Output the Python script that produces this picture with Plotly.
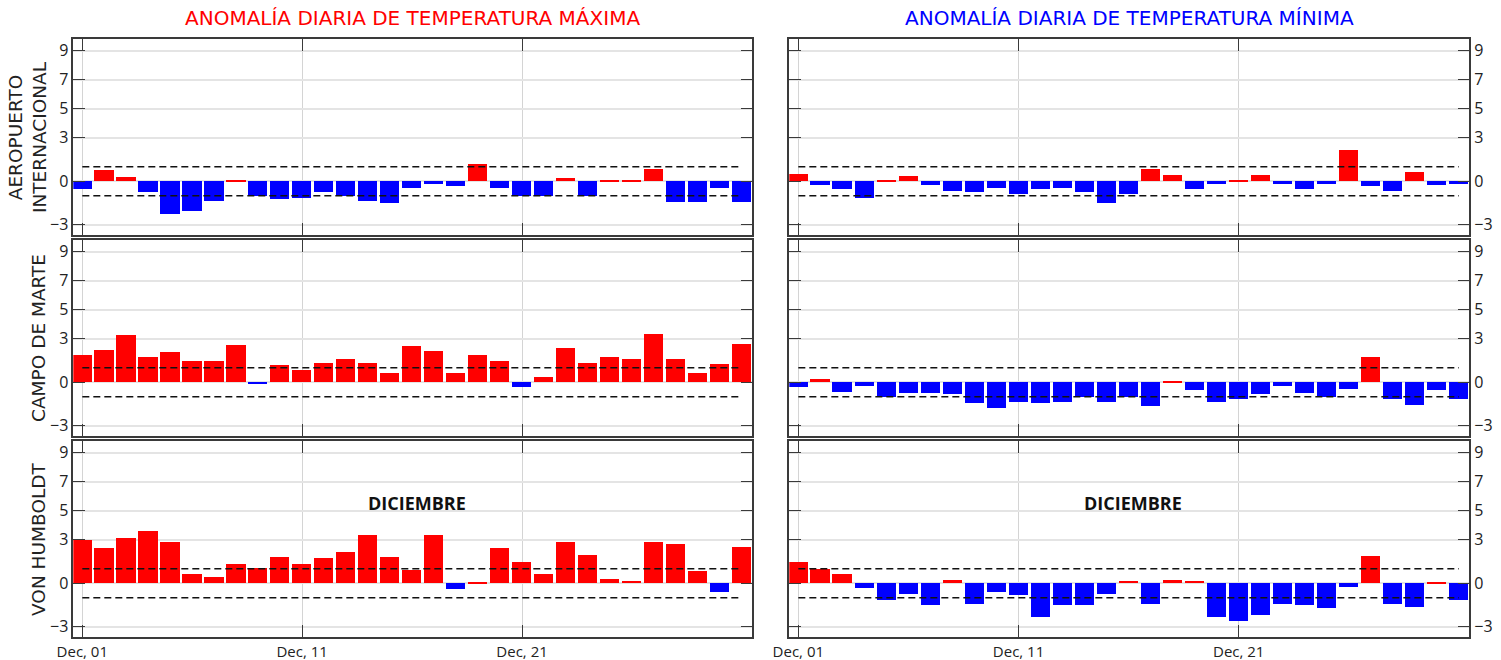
import plotly.graph_objects as go

days = list(range(1, 32))
tick_vals = [1, 11, 21]
tick_text = ["Dec, 01", "Dec, 11", "Dec, 21"]
y_ticks = [-3, 0, 3, 5, 7, 9]

stations = ["AEROPUERTO<br>INTERNACIONAL", "CAMPO DE MARTE", "VON HUMBOLDT"]
col_titles = ["ANOMALÍA DIARIA DE TEMPERATURA MÁXIMA", "ANOMALÍA DIARIA DE TEMPERATURA MÍNIMA"]
month_label = "DICIEMBRE"
threshold = 1.0

# Max temperature anomalies (left column)
tmax_aeropuerto = [-0.55, 0.75, 0.27, -0.73, -2.22, -2.06, -1.33, 0.03, -1.0, -1.24,
                   -1.14, -0.73, -1.0, -1.33, -1.53, -0.46, -0.16, -0.32, 1.17, -0.46,
                   -1.0, -1.0, 0.25, -1.0, 0.03, 0.03, 0.82, -1.44, -1.44, -0.46, -1.44]
tmax_campo = [1.85, 2.24, 3.28, 1.73, 2.08, 1.45, 1.45, 2.56, -0.14, 1.18,
              0.85, 1.34, 1.57, 1.34, 0.65, 2.47, 2.15, 0.65, 1.85, 1.45,
              -0.32, 0.35, 2.36, 1.34, 1.73, 1.57, 3.35, 1.57, 0.65, 1.27, 2.66]
tmax_humboldt = [3.0, 2.41, 3.1, 3.63, 2.82, 0.62, 0.41, 1.33, 1.03, 1.84,
                 1.33, 1.72, 2.13, 3.33, 1.84, 0.92, 3.33, -0.37, 0.03, 2.41,
                 1.45, 0.62, 2.82, 1.93, 0.3, 0.14, 2.82, 2.71, 0.83, -0.57, 2.53]

# Min temperature anomalies (right column)
tmin_aeropuerto = [0.53, -0.23, -0.53, -1.17, 0.03, 0.34, -0.23, -0.64, -0.76, -0.46,
                   -0.87, -0.53, -0.46, -0.76, -1.53, -0.87, 0.82, 0.43, -0.55, -0.16,
                   0.03, 0.43, -0.16, -0.55, -0.16, 2.13, -0.34, -0.64, 0.64, -0.23, -0.16]
tmin_campo = [-0.32, 0.23, -0.64, -0.25, -0.99, -0.74, -0.74, -0.83, -1.45, -1.75,
              -1.33, -1.45, -1.33, -1.03, -1.33, -1.03, -1.66, 0.02, -0.53, -1.33,
              -1.13, -0.83, -0.25, -0.74, -1.03, -0.44, 1.72, -1.13, -1.54, -0.53, -1.13]
tmin_humboldt = [1.48, 0.98, 0.66, -0.32, -1.12, -0.73, -1.53, 0.25, -1.42, -0.62,
                 -0.82, -2.33, -1.53, -1.53, -0.73, 0.16, -1.42, 0.25, 0.16, -2.33,
                 -2.63, -2.21, -1.42, -1.53, -1.71, -0.23, 1.85, -1.42, -1.62, 0.02, -1.12]

panels = [
    [tmax_aeropuerto, tmin_aeropuerto],
    [tmax_campo, tmin_campo],
    [tmax_humboldt, tmin_humboldt],
]

W, H = 1501, 660
col_px = [(73.3, 752.3), (789.3, 1469.3)]
row_px = [(39, 235), (240, 436), (441, 637)]


def fx(px):
    return px / W


def fy(py):
    return 1 - py / H


POS = "#ff0000"
NEG = "#0000ff"
FRAME = "#3a3a3a"

fig = go.Figure()
layout = {}
for r in range(3):
    for c in range(2):
        i = r * 2 + c + 1
        xs = "" if i == 1 else str(i)
        vals = panels[r][c]
        colors = [POS if v >= 0 else NEG for v in vals]
        fig.add_trace(go.Bar(x=days, y=vals, marker=dict(color=colors, line=dict(width=0)),
                             width=0.87, xaxis="x" + xs, yaxis="y" + xs, showlegend=False))
        for t in (threshold, -threshold):
            fig.add_trace(go.Scatter(x=[days[0], days[-1]], y=[t, t], mode="lines",
                                     line=dict(color="#111111", width=1.6, dash="7px,4px"),
                                     xaxis="x" + xs, yaxis="y" + xs, showlegend=False,
                                     hoverinfo="skip"))
        x0, x1 = col_px[c]
        y0, y1 = row_px[r]
        layout["xaxis" + xs] = dict(
            domain=[fx(x0), fx(x1)], anchor="y" + xs, range=[0.59, 31.47],
            tickvals=tick_vals, ticktext=tick_text, showticklabels=(r == 2),
            ticks="inside", ticklen=12, tickwidth=1.3, tickcolor=FRAME,
            showline=True, linecolor=FRAME, linewidth=1.5, mirror="all",
            showgrid=True, gridcolor="#d4d4d4", gridwidth=1, zeroline=False,
            automargin=False,
            tickfont=dict(family="Open Sans", size=15, color="#222222"),
        )
        layout["yaxis" + xs] = dict(
            domain=[fy(y1), fy(y0)], anchor="x" + xs, range=[-3.7, 9.8],
            tickvals=y_ticks, side=("left" if c == 0 else "right"),
            ticks="inside", ticklen=12, tickwidth=1.3, tickcolor=FRAME,
            showline=True, linecolor=FRAME, linewidth=1.5, mirror="all",
            showgrid=True, gridcolor="#e4e4e4", gridwidth=2, zeroline=False,
            automargin=False,
            tickfont=dict(family="Open Sans", size=16, color="#222222"),
        )

annotations = []
title_colors = [POS, NEG]
for c in range(2):
    x0, x1 = col_px[c]
    annotations.append(dict(text=col_titles[c], xref="paper", yref="paper",
                            x=fx((x0 + x1) / 2), y=fy(18), xanchor="center", yanchor="middle",
                            showarrow=False,
                            font=dict(family="DejaVu Sans", size=20, color=title_colors[c])))
label_x = [28, 38, 38]
for r in range(3):
    y0, y1 = row_px[r]
    annotations.append(dict(text=stations[r], xref="paper", yref="paper",
                            x=fx(label_x[r]), y=fy((y0 + y1) / 2), xanchor="center",
                            yanchor="middle", textangle=-90, showarrow=False,
                            font=dict(family="DejaVu Sans", size=18.5, color="#222222")))
for xs in ("5", "6"):
    annotations.append(dict(text="<b>" + month_label + "</b>", xref="x" + xs, yref="y" + xs,
                            x=16.2, y=5.5, showarrow=False,
                            font=dict(family="Open Sans", size=18, color="#111111")))

fig.update_layout(width=W, height=H, margin=dict(l=0, r=0, t=0, b=0, pad=0),
                  paper_bgcolor="white", plot_bgcolor="white", bargap=0,
                  annotations=annotations, **layout)

fig.write_html("out.html", config={"displayModeBar": False},
               post_script="document.body.style.margin='0';")
